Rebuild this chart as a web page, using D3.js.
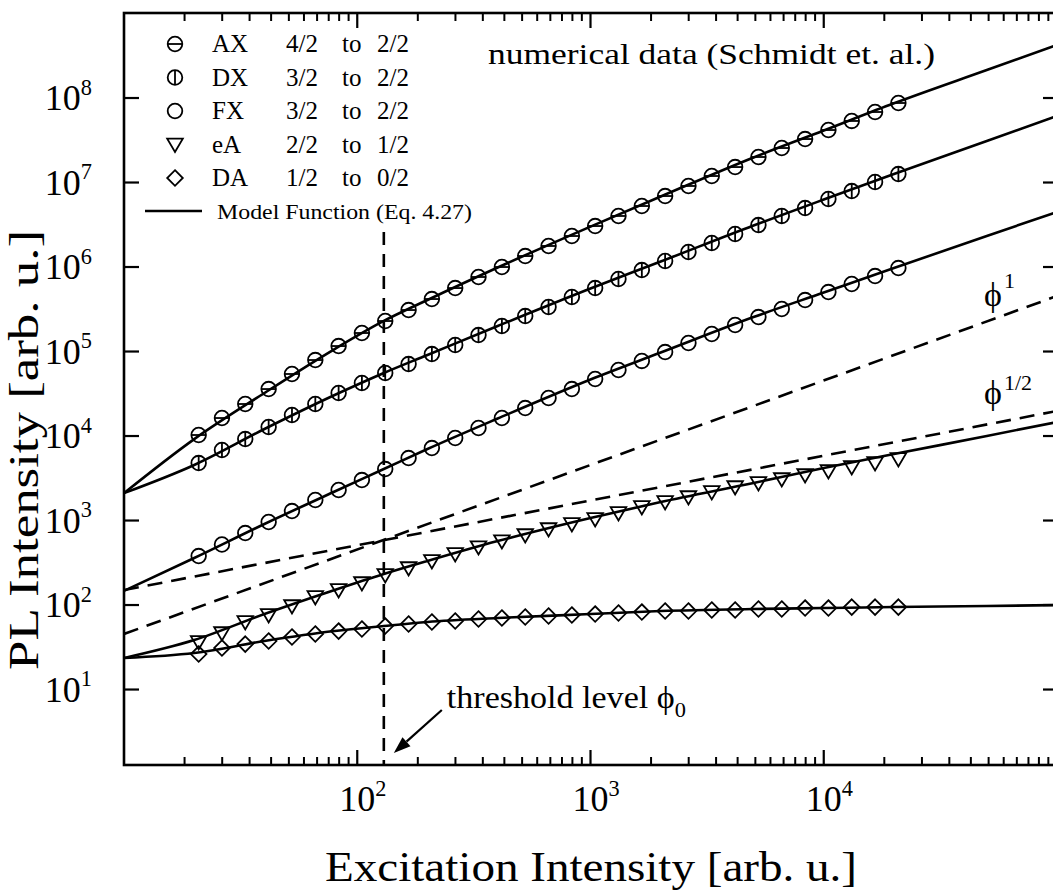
<!DOCTYPE html>
<html><head><meta charset="utf-8">
<script src="https://cdn.jsdelivr.net/npm/d3@7"></script>
<style>body{margin:0;background:#fff} svg{display:block} text{font-family:"Liberation Serif","DejaVu Serif",serif;fill:#000}</style>
</head><body>
<svg id="c" width="1053" height="891"></svg>
<script>
// ---------------- data ----------------
const excitation = [20.9, 26.3, 33.1, 41.7, 52.5, 66.1, 83.2, 104.7, 131.8, 166, 208.9, 263, 331, 417, 525, 661, 832, 1047, 1318, 1660, 2089, 2630, 3311, 4169, 5248, 6607, 8318, 10471, 13183, 16596, 20893];
const intensityAX = [10280,16330,23930,35970,54200,79300,116100,165600,229600,309700,418000,563700,762000,1.0e6,1.349e6,1.774e6,2.328e6,3.055e6,4.018e6,5.272e6,6.92e6,9.1e6,1.194e7,1.524e7,2.004e7,2.56e7,3.27e7,4.18e7,5.35e7,6.83e7,8.73e7];
const intensityDX = [4786,6830,9210,12790,17740,23930,32280,42400,55700,71100,93300,119400,156700,200400,263000,336500,441600,563700,721000,920500,1.178e6,1.506e6,1.923e6,2.46e6,3.14e6,4.02e6,4.99e6,6.38e6,7.93e6,1.014e7,1.26e7];
const intensityFX = [380,520,711,960,1294,1749,2296,3013,4066,5490,7210,9470,12440,16330,21430,28180,35970,47300,60400,77300,98600,126200,161100,206100,255900,318400,406400,505800,629500,781600,972700];
const intensityEA = [36.5,46.6,63.0,76.2,97.3,124.4,150.6,182.0,226.5,274,332,402,485,571,673,793,910,1042,1227,1445,1656,1897,2174,2490,2779,3097,3452,3855,4297,4786,5346];
const intensityDA = [26.3,31.0,34.5,37.5,41.8,45.4,49.2,52.0,56.4,59.6,63.0,64.7,68.3,70.2,72.1,74.1,76.2,78.2,80.4,82.6,84.9,84.9,87.3,87.3,89.7,89.7,92.1,92.1,94.6,94.6,94.6];

const modelX  = [10, 20, 40, 80, 130, 200, 400, 1000, 2000, 5000, 10000, 20000, 50000, 100000];
const modelAX = [2110, 9200, 32300, 107000, 230000, 407000, 986000, 3.01e6, 6.83e6, 1.98e7, 4.12e7, 8.65e7, 2.14e8, 4.24e8];
const modelDX = [2110, 4540, 12100, 30550, 55700, 91000, 200400, 557000, 1.161e6, 3.10e6, 6.29e6, 1.26e7, 3.10e7, 6.12e7];
const modelFX = [147, 360, 910, 2203, 4066, 7015, 16110, 46660, 97300, 255900, 498900, 972700, 2.33e6, 4.48e6];
const modelEA = [23.6, 38.5, 78.2, 150.6, 232.8, 331.9, 571, 1072, 1656, 2780, 4180, 6120, 10000, 14650];
const modelDA = [23.6, 27.0, 37.5, 49.2, 56.4, 63.0, 70.2, 78.2, 84.9, 89.7, 92.1, 94.6, 97.3, 100];

const asymX = [10, 100000];
const asymPhi1 = [45.4, 454000];
const asymPhiHalf = [150.6, 19770];
const thresholdX = 130;
const thresholdTop = 2.6e6;

const seriesNames = ["AX", "DX", "FX", "eA", "DA"];
const seriesFrom = ["4/2", "3/2", "3/2", "2/2", "1/2"];
const seriesTo = ["2/2", "2/2", "2/2", "1/2", "0/2"];
const seriesSymbols = ["circleH", "circleV", "circle", "triDown", "diamond"];

const xDomain = [10, 1e5];
const yDomain = [1.279, 1.014e9];
const xMajorTicks = [100, 1000, 10000];
const xTickExps = ["2", "3", "4"];
const yMajorTicks = [1e1, 1e2, 1e3, 1e4, 1e5, 1e6, 1e7, 1e8];
const yTickExps = ["1", "2", "3", "4", "5", "6", "7", "8"];
const decades = [10, 100, 1000, 10000];

// ---------------- layout ----------------
const svg = d3.select("#c");
const L = 124, R = 1057, T = 13, B = 765;
const x = d3.scaleLog().domain(xDomain).range([L, R]);
const y = d3.scaleLog().domain(yDomain).range([B, T]);

svg.append("defs").append("clipPath").attr("id", "clip")
  .append("rect").attr("x", L).attr("y", T).attr("width", R - L).attr("height", B - T);

const plot = svg.append("g").attr("clip-path", "url(#clip)");

const lineGen = d3.line().x(d => x(d[0])).y(d => y(d[1])).curve(d3.curveMonotoneX);

// asymptotes (dashed)
[asymPhi1, asymPhiHalf].forEach(vals => {
  plot.append("path").datum(asymX.map((v, i) => [v, vals[i]]))
    .attr("d", d3.line().x(d => x(d[0])).y(d => y(d[1])))
    .attr("fill", "none").attr("stroke", "#000").attr("stroke-width", 2.6)
    .attr("stroke-dasharray", "15,9");
});

// threshold line
plot.append("line")
  .attr("x1", x(thresholdX)).attr("x2", x(thresholdX))
  .attr("y1", y(thresholdTop)).attr("y2", B)
  .attr("stroke", "#000").attr("stroke-width", 2.6).attr("stroke-dasharray", "13,9");

// model lines
[modelAX, modelDX, modelFX, modelEA, modelDA].forEach(vals => {
  plot.append("path").datum(modelX.map((v, i) => [v, vals[i]]))
    .attr("d", lineGen).attr("fill", "none").attr("stroke", "#000").attr("stroke-width", 2.6);
});

// markers
function drawSymbol(g, type, cx, cy) {
  const s = g.append("g").attr("transform", `translate(${cx},${cy})`)
    .attr("fill", "none").attr("stroke", "#000").attr("stroke-width", 1.8);
  const r = 7.3;
  if (type.startsWith("circle")) {
    s.append("circle").attr("r", r);
    if (type === "circleH") s.append("line").attr("x1", -r).attr("x2", r).attr("y1", 0).attr("y2", 0);
    if (type === "circleV") s.append("line").attr("x1", 0).attr("x2", 0).attr("y1", -r).attr("y2", r);
  } else if (type === "triDown") {
    s.append("path").attr("d", "M-7.8,-5.8L7.8,-5.8L0,7.4Z");
  } else if (type === "diamond") {
    s.append("path").attr("d", "M0,-7.8L7.8,0L0,7.8L-7.8,0Z");
  }
}
const seriesData = [intensityAX, intensityDX, intensityFX, intensityEA, intensityDA];
const markerG = svg.append("g");
seriesData.forEach((vals, si) => {
  vals.forEach((v, i) => drawSymbol(markerG, seriesSymbols[si], x(excitation[i]), y(v)));
});

// ---------------- axes ----------------
const axisG = svg.append("g").attr("stroke", "#000");
const xMinor = [];
decades.forEach(d => { for (let i = 1; i <= 10; i++) xMinor.push(d * (1 + 9 * i / 11)); });
xMinor.filter(v => xMajorTicks.indexOf(v) < 0).forEach(v => {
  const px = x(v);
  axisG.append("line").attr("x1", px).attr("x2", px).attr("y1", B).attr("y2", B - 8).attr("stroke-width", 2);
  axisG.append("line").attr("x1", px).attr("x2", px).attr("y1", T).attr("y2", T + 8).attr("stroke-width", 2);
});
xMajorTicks.forEach(v => {
  const px = x(v);
  axisG.append("line").attr("x1", px).attr("x2", px).attr("y1", B).attr("y2", B - 15).attr("stroke-width", 2.2);
  axisG.append("line").attr("x1", px).attr("x2", px).attr("y1", T).attr("y2", T + 15).attr("stroke-width", 2.2);
});
yMajorTicks.forEach(v => {
  const py = y(v);
  axisG.append("line").attr("x1", L).attr("x2", L + 15).attr("y1", py).attr("y2", py).attr("stroke-width", 2.2);
  axisG.append("line").attr("x1", R).attr("x2", R - 14).attr("y1", py).attr("y2", py).attr("stroke-width", 2.2);
});
svg.append("rect").attr("x", L).attr("y", T).attr("width", R - L).attr("height", B - T)
  .attr("fill", "none").attr("stroke", "#000").attr("stroke-width", 2.6);

// tick labels
const tfs = 36;
xMajorTicks.forEach((v, i) => {
  const t = svg.append("text").attr("x", x(v) - tfs * 0.5).attr("y", 811).attr("font-size", tfs);
  t.append("tspan").text("10");
  t.append("tspan").attr("dy", -tfs * 0.42).attr("font-size", tfs * 0.62).text(xTickExps[i]);
});
yMajorTicks.forEach((v, i) => {
  const t = svg.append("text").attr("x", 92).attr("y", y(v) + 12).attr("font-size", tfs).attr("text-anchor", "end");
  t.append("tspan").text("10");
  t.append("tspan").attr("dy", -tfs * 0.42).attr("font-size", tfs * 0.62).text(yTickExps[i]);
});

// axis titles
svg.append("text").attr("x", (L + 1058) / 2).attr("y", 881).attr("font-size", 42)
  .attr("text-anchor", "middle").attr("textLength", 532).attr("lengthAdjust", "spacingAndGlyphs")
  .text("Excitation Intensity [arb. u.]");
svg.append("text").attr("transform", "translate(38,450) rotate(-90)").attr("font-size", 42)
  .attr("text-anchor", "middle").attr("textLength", 440).attr("lengthAdjust", "spacingAndGlyphs")
  .text("PL Intensity [arb. u.]");

// ---------------- legend ----------------
const rowY = [44, 77.5, 111, 144.5, 178];
seriesNames.forEach((n, i) => {
  drawSymbol(svg, seriesSymbols[i], 175, rowY[i]);
  const by = rowY[i] + 8;
  svg.append("text").attr("x", 212).attr("y", by).attr("font-size", 25).text(n);
  svg.append("text").attr("x", 286).attr("y", by).attr("font-size", 25).text(seriesFrom[i]);
  svg.append("text").attr("x", 342).attr("y", by).attr("font-size", 25).text("to");
  svg.append("text").attr("x", 377).attr("y", by).attr("font-size", 25).text(seriesTo[i]);
});
svg.append("line").attr("x1", 145).attr("x2", 202).attr("y1", 211).attr("y2", 211)
  .attr("stroke", "#000").attr("stroke-width", 2.6);
svg.append("text").attr("x", 217).attr("y", 219).attr("font-size", 22)
  .attr("textLength", 255).attr("lengthAdjust", "spacingAndGlyphs").text("Model Function (Eq. 4.27)");

svg.append("text").attr("x", 488).attr("y", 64).attr("font-size", 30)
  .attr("textLength", 447).attr("lengthAdjust", "spacingAndGlyphs").text("numerical data (Schmidt et. al.)");

// phi labels
const p1 = svg.append("text").attr("x", 984).attr("y", 306).attr("font-size", 34);
p1.append("tspan").text("ϕ");
p1.append("tspan").attr("dx", 2).attr("dy", -18).attr("font-size", 22).text("1");
const p2 = svg.append("text").attr("x", 984).attr("y", 404).attr("font-size", 34);
p2.append("tspan").text("ϕ");
p2.append("tspan").attr("dx", 2).attr("dy", -14).attr("font-size", 22).text("1/2");

// threshold annotation
const tx = x(thresholdX);
const tipX = tx + 10, tipY = B - 12;
const tailX = tipX + 48, tailY = tipY - 43;
const ang = Math.atan2(tipY - tailY, tipX - tailX);
const hl = 17, hw = 6;
const bx = tipX - hl * Math.cos(ang), by = tipY - hl * Math.sin(ang);
svg.append("line").attr("x1", tailX).attr("y1", tailY).attr("x2", bx).attr("y2", by)
  .attr("stroke", "#000").attr("stroke-width", 2.2);
svg.append("path").attr("d", `M${tipX},${tipY}L${bx + hw * Math.sin(ang)},${by - hw * Math.cos(ang)}L${bx - hw * Math.sin(ang)},${by + hw * Math.cos(ang)}Z`)
  .attr("fill", "#000");
const th = svg.append("text").attr("x", tx + 63).attr("y", 708).attr("font-size", 32)
  .attr("textLength", 239).attr("lengthAdjust", "spacingAndGlyphs");
th.append("tspan").text("threshold level ϕ");
th.append("tspan").attr("dy", 9).attr("font-size", 21).text("0");
</script>
</body></html>
